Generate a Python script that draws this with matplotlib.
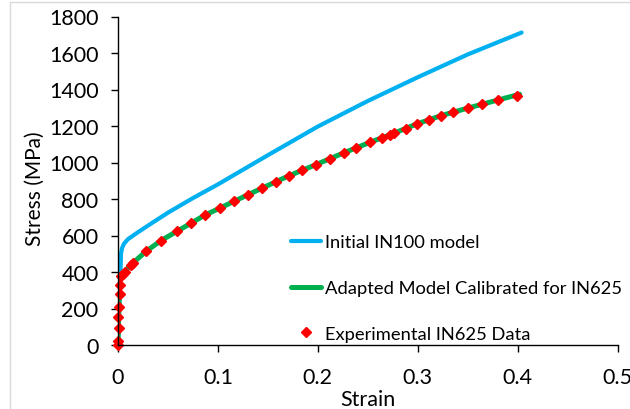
import matplotlib
matplotlib.use("Agg")
import matplotlib.pyplot as plt
from matplotlib.patches import Rectangle

plt.rcParams['font.family'] = ['Lato', 'DejaVu Sans']

# initial IN100 model
blue_strain = [0, 0.0025, 0.003, 0.004, 0.006, 0.01, 0.02, 0.035, 0.05, 0.075, 0.1,
               0.15, 0.2, 0.25, 0.3, 0.35, 0.404]
blue_stress = [0, 400, 500, 530, 555, 580, 618, 672, 725, 805, 880,
               1040, 1197, 1337, 1467, 1592, 1712]

# adapted model calibrated for IN625
green_strain = [0, 0.0015, 0.004, 0.007, 0.013, 0.028, 0.043, 0.059, 0.073, 0.087,
                0.102, 0.116, 0.144, 0.171, 0.198, 0.226, 0.252, 0.276, 0.299,
                0.323, 0.350, 0.380, 0.402]
green_stress = [0, 370, 392, 405, 440, 513, 572, 623, 667, 712,
                750, 787, 859, 927, 988, 1053, 1110, 1160, 1211,
                1256, 1298, 1342, 1374]

# experimental IN625 data
exp_strain = [0.0003, 0.0, 0.001, 0.0003, 0.0013, 0.002, 0.002, 0.0027, 0.0047, 0.007,
              0.013, 0.0153, 0.028, 0.043, 0.059, 0.073, 0.087, 0.102, 0.116, 0.130,
              0.144, 0.158, 0.171, 0.184, 0.198, 0.212, 0.226, 0.238, 0.252, 0.264,
              0.272, 0.276, 0.288, 0.299, 0.311, 0.323, 0.335, 0.350, 0.364, 0.380, 0.399]
exp_stress = [0, 24, 92, 155, 210, 278, 329, 377, 390, 402,
              440, 452, 513, 572, 623, 667, 712, 750, 787, 822,
              859, 892, 927, 958, 988, 1019, 1053, 1080, 1110, 1134,
              1151, 1160, 1186, 1211, 1233, 1256, 1275, 1298, 1321, 1342, 1364]

x_ticks = [0, 0.1, 0.2, 0.3, 0.4, 0.5]
x_labels = ["0", "0.1", "0.2", "0.3", "0.4", "0.5"]
y_ticks = list(range(0, 1801, 200))

fig = plt.figure(figsize=(6.3, 4.1), dpi=100)
fig.patches.append(Rectangle((10/630, -0.1), 1.2, 1 - 3/410 + 0.1, transform=fig.transFigure,
                             fill=False, edgecolor='#D9D9D9', linewidth=1))
ax = fig.add_axes([118/630, 1 - 346/410, 499.5/630, 328.5/410])

l1, = ax.plot(blue_strain, blue_stress, color='#00B0F0', lw=3, label='Initial IN100 model',
              solid_capstyle='round')
l2, = ax.plot(green_strain, green_stress, color='#00B050', lw=3.6,
              label='Adapted Model Calibrated for IN625', solid_capstyle='round')
l3, = ax.plot(exp_strain, exp_stress, ls='none', marker='D', ms=5.5, color='#FF0000',
              label='Experimental IN625 Data', clip_on=False)

ax.set_xlim(0, 0.5)
ax.set_ylim(0, 1800)
ax.set_xticks(x_ticks)
ax.set_xticklabels(x_labels)
ax.set_yticks(y_ticks)
ax.spines['top'].set_visible(False)
ax.spines['right'].set_visible(False)
for s in ['left', 'bottom']:
    ax.spines[s].set_linewidth(1)
    ax.spines[s].set_color('black')
ax.tick_params(axis='both', direction='out', length=5, width=1, labelsize=15.5, color='black')
ax.tick_params(axis='y', pad=9)
ax.tick_params(axis='x', pad=11)

ax.set_xlabel('Strain', fontsize=15.5)
ax.set_ylabel('Stress (MPa)', fontsize=15)
ax.xaxis.set_label_coords(0.5, -0.135)
ax.yaxis.set_label_coords(-0.147, 0.48)

ax.legend(handles=[l1, l2, l3], loc='upper left', bbox_to_anchor=(291/630, 1 - 235.5/410),
          bbox_transform=fig.transFigure, frameon=False, fontsize=13.2, borderpad=0,
          handlelength=1.65, handletextpad=0.2, labelspacing=1.62, borderaxespad=0)

fig.savefig('out.png', dpi=100)
